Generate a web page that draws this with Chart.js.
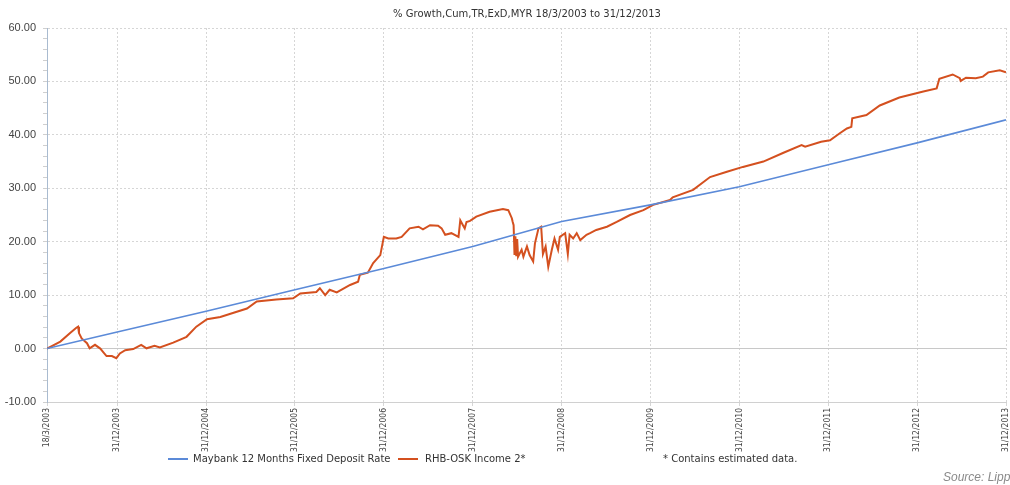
<!DOCTYPE html>
<html>
<head>
<meta charset="utf-8">
<script src="https://cdn.jsdelivr.net/npm/chart.js@4/dist/chart.umd.min.js"></script>
<style>
  html, body { margin: 0; padding: 0; background: #fff; }
  canvas { display: block; }
</style>
</head>
<body>
<canvas id="growthChart" width="1010" height="485"></canvas>
<script>
// Fechas en años decimales (18/3/2003 = 2003.21)
const tickDates = [2003.21, 2004, 2005, 2006, 2007, 2008, 2009, 2010, 2011, 2012, 2013, 2014];
const tickLabels = ['18/3/2003', '31/12/2003', '31/12/2004', '31/12/2005', '31/12/2006', '31/12/2007',
    '31/12/2008', '31/12/2009', '31/12/2010', '31/12/2011', '31/12/2012', '31/12/2013'];

// Maybank 12 Months Fixed Deposit Rate
const depositValues = [0, 3.1, 7.0, 11.0, 15.0, 19.1, 23.8, 26.9, 30.3, 34.4, 38.5, 42.8];

// RHB-OSK Income 2*
const fundDates = [
    2003.21, 2003.36, 2003.47, 2003.54, 2003.56, 2003.57, 2003.60, 2003.66, 2003.69, 2003.75,
    2003.81, 2003.84, 2003.88, 2003.94, 2003.99, 2004.03, 2004.09, 2004.18, 2004.27, 2004.33,
    2004.42, 2004.48, 2004.63, 2004.78, 2004.89, 2005.01, 2005.16, 2005.31, 2005.46, 2005.57,
    2005.79, 2005.98, 2006.06, 2006.24, 2006.28, 2006.34, 2006.39, 2006.47, 2006.62, 2006.71,
    2006.73, 2006.82, 2006.88, 2006.96, 2007.00, 2007.05, 2007.14, 2007.20, 2007.29, 2007.39,
    2007.44, 2007.52, 2007.61, 2007.65, 2007.69, 2007.76, 2007.84, 2007.86, 2007.89, 2007.91,
    2007.93, 2007.97, 2008.04, 2008.19, 2008.34, 2008.40, 2008.44, 2008.45, 2008.46, 2008.47,
    2008.48, 2008.49, 2008.50, 2008.51, 2008.55, 2008.57, 2008.61, 2008.64, 2008.68, 2008.70,
    2008.74, 2008.77, 2008.79, 2008.82, 2008.85, 2008.89, 2008.92, 2008.96, 2008.98, 2009.04,
    2009.07, 2009.09, 2009.13, 2009.17, 2009.21, 2009.28, 2009.32, 2009.39, 2009.51, 2009.62,
    2009.77, 2009.92, 2010.03, 2010.22, 2010.25, 2010.48, 2010.67, 2010.86, 2011.04, 2011.27,
    2011.49, 2011.70, 2011.74, 2011.92, 2012.02, 2012.13, 2012.21, 2012.26, 2012.27, 2012.43,
    2012.58, 2012.80, 2013.07, 2013.22, 2013.25, 2013.40, 2013.48, 2013.49, 2013.55, 2013.66,
    2013.74, 2013.80, 2013.93, 2014.00
];
const fundValues = [
    0, 1.3, 2.9, 3.9, 4.1, 2.9, 1.9, 1.0, 0.05, 0.7,
    0.0, -0.6, -1.4, -1.4, -1.8, -0.9, -0.3, -0.1, 0.7, 0.05,
    0.5, 0.2, 1.1, 2.2, 4.1, 5.5, 5.9, 6.7, 7.5, 8.8,
    9.2, 9.4, 10.3, 10.6, 11.3, 10.0, 11.0, 10.5, 11.9, 12.5,
    13.8, 14.2, 16.0, 17.5, 20.9, 20.6, 20.6, 20.9, 22.5, 22.8,
    22.3, 23.1, 23.0, 22.5, 21.3, 21.6, 20.9, 24.0, 23.1, 22.5,
    23.7, 23.9, 24.7, 25.6, 26.1, 25.9, 24.4, 23.7, 23.1, 17.5,
    21.0, 17.3, 20.5, 17.2, 18.5, 17.2, 19.1, 17.5, 16.3, 19.7,
    22.5, 22.8, 17.7, 19.1, 15.3, 18.5, 20.6, 18.5, 20.9, 21.6,
    17.7, 21.3, 20.6, 21.6, 20.3, 21.3, 21.6, 22.2, 22.8, 23.7,
    25.0, 25.9, 26.9, 27.8, 28.3, 29.7, 32.1, 33.1, 34.0, 35.0,
    36.6, 38.1, 37.8, 38.7, 39.0, 40.3, 41.2, 41.5, 43.1, 43.7,
    45.5, 47.0, 48.1, 48.7, 50.5, 51.3, 50.6, 50.1, 50.7, 50.6,
    50.9, 51.7, 52.1, 51.7
];

const seriesNames = ['Maybank 12 Months Fixed Deposit Rate', 'RHB-OSK Income 2*'];
const seriesColors = ['#5b8ad8', '#d4501f'];

// Título, leyenda y fuente
const extrasPlugin = {
    id: 'extras',
    beforeDraw(chart) {
        const c = chart.ctx;
        c.save();
        c.fillStyle = '#ffffff';
        c.fillRect(0, 0, chart.width, chart.height);
        c.restore();
    },
    afterDraw(chart) {
        const c = chart.ctx;
        c.save();
        c.textBaseline = 'middle';
        c.fillStyle = '#333';
        c.font = '10px "DejaVu Sans"';
        c.textAlign = 'center';
        c.fillText('% Growth,Cum,TR,ExD,MYR 18/3/2003 to 31/12/2013', 527, 14);

        // leyenda
        c.textAlign = 'left';
        const items = [[168, 193], [398, 425]];
        items.forEach((pos, i) => {
            c.strokeStyle = seriesColors[i];
            c.lineWidth = 2;
            c.beginPath();
            c.moveTo(pos[0], 459);
            c.lineTo(pos[0] + 20, 459);
            c.stroke();
            c.fillStyle = '#333';
            c.fillText(seriesNames[i], pos[1], 459);
        });
        c.fillText('* Contains estimated data.', 663, 459);

        c.fillStyle = '#8a8a8a';
        c.font = 'italic 12px "Liberation Sans"';
        c.fillText('Source: Lipper', 943, 478);
        c.restore();
    }
};

const ctx = document.getElementById('growthChart');
new Chart(ctx, {
    type: 'line',
    data: {
        datasets: [{
            label: seriesNames[0],
            data: tickDates.map((d, i) => ({ x: d, y: depositValues[i] })),
            borderColor: seriesColors[0],
            borderWidth: 1.6,
            pointRadius: 0,
            tension: 0
        }, {
            label: seriesNames[1],
            data: fundDates.map((d, i) => ({ x: d, y: fundValues[i] })),
            borderColor: seriesColors[1],
            borderWidth: 2,
            pointRadius: 0,
            tension: 0
        }]
    },
    options: {
        responsive: false,
        animation: false,
        layout: { padding: { top: 28, right: 4, left: 0, bottom: 0 } },
        plugins: {
            legend: { display: false },
            tooltip: { enabled: false }
        },
        scales: {
            x: {
                type: 'linear',
                min: 2003.21,
                max: 2014,
                afterBuildTicks: axis => {
                    axis.ticks = tickDates.map(v => ({ value: v }));
                },
                afterFit: scale => {
                    scale.height = 83;
                    scale.paddingLeft = 0;
                    scale.paddingRight = 0;
                },
                ticks: {
                    autoSkip: false,
                    maxRotation: 90,
                    minRotation: 90,
                    padding: 2,
                    color: '#444',
                    font: { family: '"Liberation Sans Narrow", "DejaVu Sans Condensed", sans-serif', size: 8.5 },
                    callback: (v, i) => tickLabels[i]
                },
                grid: {
                    color: '#d6d6d6',
                    tickColor: '#d6d6d6',
                    tickLength: 4
                },
                border: {
                    color: '#d0d0d0',
                    dash: ctx => (ctx.tick && ctx.tick.value > 2003.3 ? [2, 2] : [])
                }
            },
            y: {
                min: -10,
                max: 60,
                afterFit: scale => { scale.width = 47; },
                ticks: {
                    stepSize: 2,
                    autoSkip: false,
                    padding: 7,
                    color: '#444',
                    font: { family: '"Liberation Sans", sans-serif', size: 11 },
                    callback: v => (Math.abs(v % 10) < 1e-6 ? v.toFixed(2) : '')
                },
                grid: {
                    color: ctx => {
                        const v = ctx.tick ? ctx.tick.value : 1;
                        if (Math.abs(v) < 1e-6) return '#c8c8c8';
                        return Math.abs(v % 10) < 1e-6 && v > -10 ? '#d6d6d6' : 'rgba(0,0,0,0)';
                    },
                    tickColor: '#cfcfcf',
                    tickLength: 4
                },
                border: {
                    color: '#a9bbd0',
                    dash: ctx => (ctx.tick && Math.abs(ctx.tick.value) > 1e-6 ? [2, 2] : [])
                }
            }
        }
    },
    plugins: [extrasPlugin]
});
</script>
</body>
</html>
